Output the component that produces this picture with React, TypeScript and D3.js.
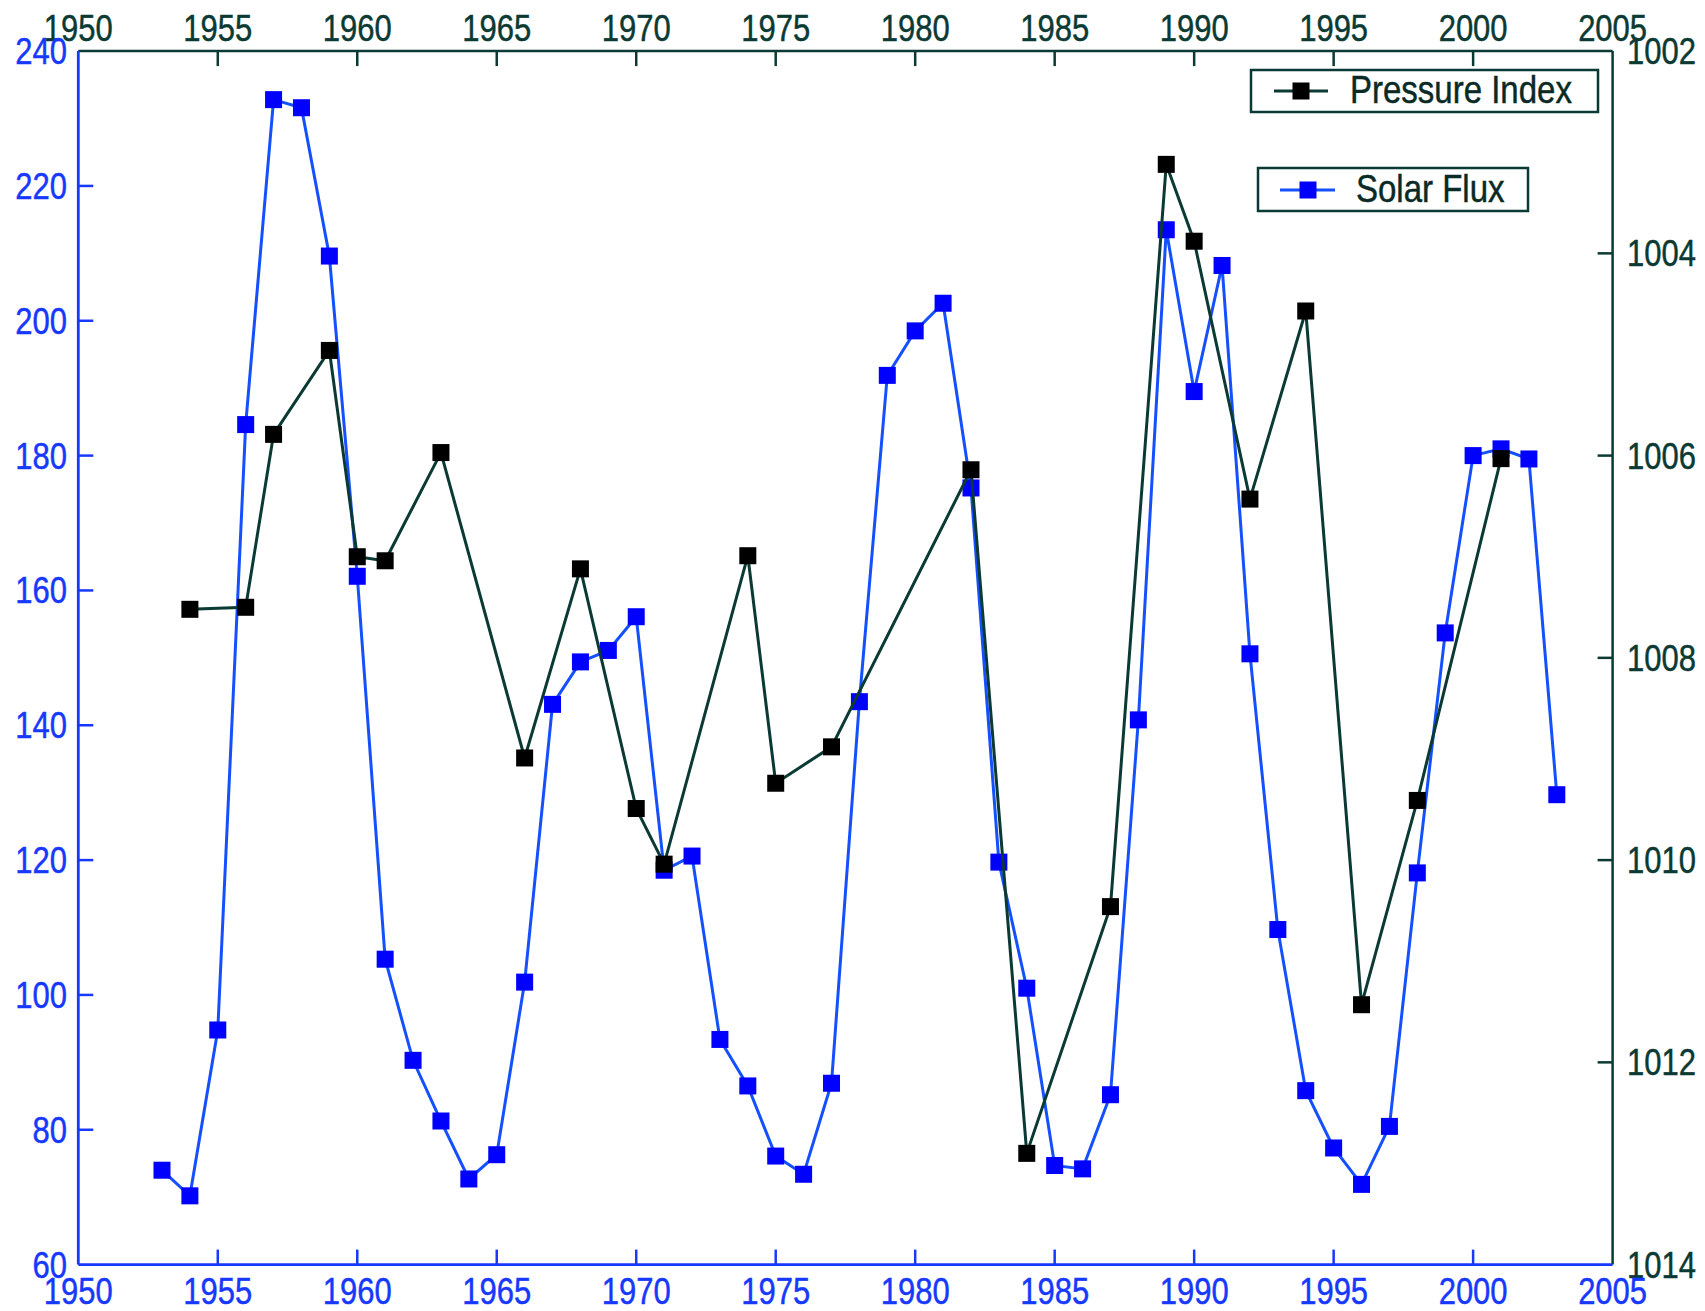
import React from "react";
import * as d3 from "d3";

const solarYears = [1953,1954,1955,1956,1957,1958,1959,1960,1961,1962,1963,1964,1965,1966,1967,1968,1969,1970,1971,1972,1973,1974,1975,1976,1977,1978,1979,1980,1981,1982,1983,1984,1985,1986,1987,1988,1989,1990,1991,1992,1993,1994,1995,1996,1997,1998,1999,2000,2001,2002,2003];
const solarFlux = [74,70.2,94.8,184.6,232.8,231.6,209.6,162.1,105.3,90.3,81.3,72.7,76.3,101.9,143.1,149.4,151.1,156.1,118.5,120.6,93.4,86.5,76.1,73.4,86.9,143.5,191.9,198.5,202.6,175.2,119.7,101,74.7,74.2,85.2,140.8,213.5,189.5,208.2,150.6,109.7,85.8,77.3,71.9,80.5,118.1,153.7,180,181,179.5,129.7];

const pressureYears = [1954,1956,1957,1959,1960,1961,1963,1966,1968,1970,1971,1974,1975,1977,1982,1984,1987,1989,1990,1992,1994,1996,1998,2001];
const pressureIndex = [1007.52,1007.5,1005.79,1004.96,1007.0,1007.04,1005.97,1008.99,1007.12,1009.49,1010.04,1006.99,1009.24,1008.88,1006.14,1012.9,1010.46,1003.12,1003.88,1006.43,1004.57,1011.43,1009.41,1006.03];

const xTicks = [1950,1955,1960,1965,1970,1975,1980,1985,1990,1995,2000,2005];
const leftTicks = [60,80,100,120,140,160,180,200,220,240];
const rightTicks = [1002,1004,1006,1008,1010,1012,1014];

const legendItems = ["Pressure Index", "Solar Flux"];

const W = 1705, H = 1311;
const L = 78.3, R = 1612.6, T = 51.1, B = 1264.6;
const BLUE = "#0000ff";
const BLUE_LINE = "#1450ff";
const AXIS_BLUE = "#1638ff";
const DARK = "#0b3a34";
const FONT = "'Liberation Sans', Arial, Helvetica, sans-serif";
const FS = 31;
const SY = 1.17;
const TICK = 15;
const MS = 17;

type TProps = { x: number; y: number; fill: string; anchor?: string; middle?: boolean; size?: number; children: React.ReactNode };
function T2({ x, y, fill, anchor = "start", middle = false, size = FS, children }: TProps) {
  const sz = size;
  const dy = middle ? (0.716 * sz * SY) / 2 : 0;
  return (
    <text
      transform={`translate(${x},${y + dy}) scale(1,${SY})`}
      textAnchor={anchor as any}
      style={{ fill, fontFamily: FONT, fontSize: sz, stroke: fill, strokeWidth: 0.4 }}
    >
      {children}
    </text>
  );
}

export default function App() {
  const x = d3.scaleLinear().domain([1950, 2005]).range([L, R]);
  const yL = d3.scaleLinear().domain([60, 240]).range([B, T]);
  const yR = d3.scaleLinear().domain([1002, 1014]).range([T, B]);

  const solarPts = solarYears.map((yr, i) => [x(yr), yL(solarFlux[i])] as [number, number]);
  const presPts = pressureYears.map((yr, i) => [x(yr), yR(pressureIndex[i])] as [number, number]);
  const line = d3.line();

  return (
    <svg width={W} height={H} style={{ position: "absolute", left: 0, top: 0, background: "#fff" }}>
      <rect x={0} y={0} width={W} height={H} fill="#fff" />
      {/* series: solar flux */}
      <path d={line(solarPts) || ""} fill="none" stroke={BLUE_LINE} strokeWidth={3} />
      {solarPts.map(([px, py], i) => (
        <rect key={"s" + i} x={px - MS / 2} y={py - MS / 2} width={MS} height={MS} fill={BLUE} />
      ))}
      {/* series: pressure index */}
      <path d={line(presPts) || ""} fill="none" stroke={DARK} strokeWidth={3} />
      {presPts.map(([px, py], i) => (
        <rect key={"p" + i} x={px - MS / 2} y={py - MS / 2} width={MS} height={MS} fill="#000" />
      ))}

      {/* top axis */}
      <line x1={L} x2={R} y1={T} y2={T} stroke={DARK} strokeWidth={2.5} />
      {xTicks.map((t) => (
        <g key={"tt" + t}>
          {t !== 1950 && t !== 2005 && (
            <line x1={x(t)} x2={x(t)} y1={T} y2={T + TICK} stroke={DARK} strokeWidth={2.5} />
          )}
          <T2 x={x(t)} y={41} anchor="middle" fill={DARK}>{t}</T2>
        </g>
      ))}
      {/* right axis */}
      <line x1={R} x2={R} y1={T} y2={B} stroke={DARK} strokeWidth={2.5} />
      {rightTicks.map((t) => (
        <g key={"rt" + t}>
          {t !== 1002 && t !== 1014 && (
            <line x1={R} x2={R - TICK} y1={yR(t)} y2={yR(t)} stroke={DARK} strokeWidth={2.5} />
          )}
          <T2 x={1627} y={yR(t)} middle fill={DARK}>{t}</T2>
        </g>
      ))}
      {/* bottom axis */}
      <line x1={L} x2={R} y1={B} y2={B} stroke={AXIS_BLUE} strokeWidth={2.8} />
      {xTicks.map((t) => (
        <g key={"bt" + t}>
          {t !== 1950 && t !== 2005 && (
            <line x1={x(t)} x2={x(t)} y1={B} y2={B - TICK} stroke={AXIS_BLUE} strokeWidth={2.5} />
          )}
          <T2 x={x(t)} y={1304} anchor="middle" fill={AXIS_BLUE}>{t}</T2>
        </g>
      ))}
      {/* left axis */}
      <line x1={L} x2={L} y1={T} y2={B} stroke={AXIS_BLUE} strokeWidth={2.8} />
      {leftTicks.map((t) => (
        <g key={"lt" + t}>
          {t !== 60 && t !== 240 && (
            <line x1={L} x2={L + TICK} y1={yL(t)} y2={yL(t)} stroke={AXIS_BLUE} strokeWidth={2.5} />
          )}
          <T2 x={67} y={yL(t)} middle anchor="end" fill={AXIS_BLUE}>{t}</T2>
        </g>
      ))}

      {/* legend 1 */}
      <g>
        <rect x={1251} y={70} width={347} height={42} fill="#fff" stroke={DARK} strokeWidth={2.5} />
        <line x1={1274} x2={1328} y1={91} y2={91} stroke={DARK} strokeWidth={3} />
        <rect x={1301 - MS / 2} y={91 - MS / 2} width={MS} height={MS} fill="#000" />
        <T2 x={1350} y={103} size={33} fill="#0a2a26">{legendItems[0]}</T2>
      </g>
      {/* legend 2 */}
      <g>
        <rect x={1258} y={168} width={270} height={43} fill="#fff" stroke={DARK} strokeWidth={2.5} />
        <line x1={1280} x2={1335} y1={190} y2={190} stroke={BLUE_LINE} strokeWidth={3} />
        <rect x={1308 - MS / 2} y={190 - MS / 2} width={MS} height={MS} fill={BLUE} />
        <T2 x={1356} y={202} size={33} fill="#0a2a26">{legendItems[1]}</T2>
      </g>
    </svg>
  );
}
